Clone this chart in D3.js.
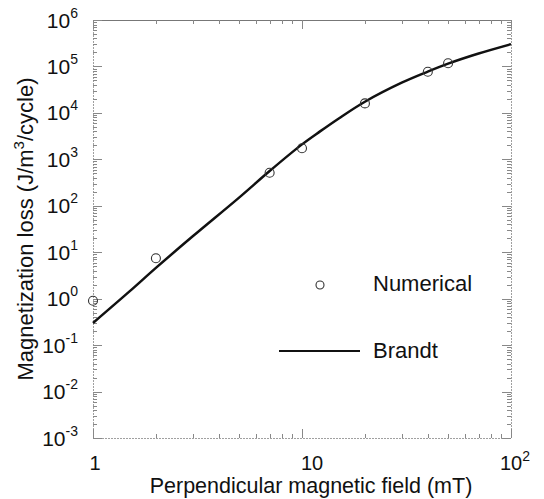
<!DOCTYPE html>
<html><head><meta charset="utf-8">
<script src="https://cdn.jsdelivr.net/npm/d3@7"></script>
<style>
body{margin:0;background:#fff}
svg{display:block}
text{font-family:"Liberation Sans",Arial,Helvetica,sans-serif;fill:#111}
</style>
</head><body><svg id="c" width="544" height="499"></svg>
<script>
// Numerical results (circles)
const numField = [1, 2, 7, 10, 20, 40, 50];
const numLoss = [0.9, 7.4, 515, 1730, 16000, 77000, 117000];
// Brandt analytical curve
const brandtField = [1, 1.5, 2, 3, 5, 7, 10, 12.2, 15, 20, 30, 40, 50, 70, 100];
const brandtLoss = [0.30, 1.45, 4.6, 22, 150, 560, 2100, 4000, 7600, 17400, 44700, 77600, 115000, 190000, 302000];
// Axis ticks
const xTickValues = [1, 10, 100];
const xTickBase = ["1", "10", "10"];
const xTickSup = ["", "", "2"];
const yTickExps = [-3, -2, -1, 0, 1, 2, 3, 4, 5, 6];
const xTitle = "Perpendicular magnetic field (mT)";
const yTitleA = "Magnetization loss (J/m", yTitleSup = "3", yTitleB = "/cycle)";
const legendLabels = ["Numerical", "Brandt"];

const svg = d3.select("#c");
const L = 93, R = 511, T = 20, B = 438;
const x = d3.scaleLog().domain([1, 100]).range([L, R]);
const y = d3.scaleLog().domain([1e-3, 1e6]).range([B, T]);

// Frame
const axisCol = "#a0a0a0";
svg.append("line").attr("x1", L).attr("x2", R).attr("y1", T + 0.5).attr("y2", T + 0.5).attr("stroke", "#777").attr("stroke-width", 1);
svg.append("line").attr("x1", L).attr("x2", R).attr("y1", B + 0.5).attr("y2", B + 0.5).attr("stroke", axisCol).attr("stroke-dasharray", "2,1");
svg.append("line").attr("x1", L + 0.5).attr("x2", L + 0.5).attr("y1", T).attr("y2", B).attr("stroke", axisCol).attr("stroke-dasharray", "2,1");
svg.append("line").attr("x1", R + 0.5).attr("x2", R + 0.5).attr("y1", T).attr("y2", B).attr("stroke", axisCol).attr("stroke-dasharray", "2,1");

// Ticks
const g = svg.append("g").attr("stroke", "#888").attr("stroke-width", 1);
const yMinor = [];
for (let e = -3; e < 6; e++) for (let k = 2; k <= 9; k++) yMinor.push(k * Math.pow(10, e));
const xMinor = [];
for (let e = 0; e < 2; e++) for (let k = 2; k <= 9; k++) xMinor.push(k * Math.pow(10, e));
yTickExps.forEach(e => {
  const yy = Math.round(y(Math.pow(10, e))) + 0.5;
  g.append("line").attr("x1", L).attr("x2", L + 9).attr("y1", yy).attr("y2", yy);
  g.append("line").attr("x1", R).attr("x2", R - 9).attr("y1", yy).attr("y2", yy);
});
yMinor.forEach(v => {
  const yy = Math.round(y(v)) + 0.5;
  g.append("line").attr("x1", L).attr("x2", L + 4).attr("y1", yy).attr("y2", yy);
  g.append("line").attr("x1", R).attr("x2", R - 4).attr("y1", yy).attr("y2", yy);
});
xTickValues.forEach(v => {
  const xx = Math.round(x(v)) + 0.5;
  g.append("line").attr("x1", xx).attr("x2", xx).attr("y1", B).attr("y2", B - 9);
  g.append("line").attr("x1", xx).attr("x2", xx).attr("y1", T).attr("y2", T + 9);
});
xMinor.forEach(v => {
  const xx = Math.round(x(v)) + 0.5;
  g.append("line").attr("x1", xx).attr("x2", xx).attr("y1", B).attr("y2", B - 4);
  g.append("line").attr("x1", xx).attr("x2", xx).attr("y1", T).attr("y2", T + 4);
});

// Y tick labels
yTickExps.forEach(e => {
  const t = svg.append("text").attr("x", 78).attr("y", y(Math.pow(10, e)) + 7.5)
    .attr("text-anchor", "end").attr("font-size", 21);
  t.append("tspan").text("10");
  t.append("tspan").attr("dy", -10).attr("font-size", 14).text(String(e));
});
// X tick labels
const xLabelShift = [2, 10, 4];
xTickValues.forEach((v, i) => {
  const t = svg.append("text").attr("x", x(v) + xLabelShift[i]).attr("y", 470)
    .attr("text-anchor", "middle").attr("font-size", 20);
  t.append("tspan").text(xTickBase[i]);
  if (xTickSup[i]) t.append("tspan").attr("dy", -9).attr("font-size", 14).text(xTickSup[i]);
});

// Axis titles
svg.append("text").attr("x", 311).attr("y", 493).attr("text-anchor", "middle")
  .attr("font-size", 21.5).text(xTitle);
const yt = svg.append("text").attr("transform", `translate(33,${(T + B) / 2}) rotate(-90)`)
  .attr("text-anchor", "middle").attr("font-size", 22);
yt.append("tspan").text(yTitleA);
yt.append("tspan").attr("dy", -9).attr("font-size", 15).text(yTitleSup);
yt.append("tspan").attr("dy", 9).text(yTitleB);

// Brandt curve
const line = d3.line().x((d, i) => x(brandtField[i])).y((d, i) => y(brandtLoss[i])).curve(d3.curveCatmullRom.alpha(0.5));
svg.append("path").datum(brandtLoss).attr("d", line).attr("fill", "none")
  .attr("stroke", "#111").attr("stroke-width", 2.5);

// Numerical circles
svg.selectAll("circle.num").data(numLoss).enter().append("circle").attr("class", "num")
  .attr("cx", (d, i) => x(numField[i])).attr("cy", d => y(d)).attr("r", 4.5)
  .attr("fill", "none").attr("stroke", "#333").attr("stroke-width", 1.1);

// Legend
svg.append("circle").attr("cx", 320).attr("cy", 285).attr("r", 4)
  .attr("fill", "none").attr("stroke", "#333").attr("stroke-width", 1.1);
svg.append("text").attr("x", 373).attr("y", 291).attr("font-size", 22).text(legendLabels[0]);
svg.append("line").attr("x1", 279).attr("x2", 360).attr("y1", 351).attr("y2", 351)
  .attr("stroke", "#111").attr("stroke-width", 2);
svg.append("text").attr("x", 373).attr("y", 358).attr("font-size", 22).text(legendLabels[1]);
</script>
</body></html>
